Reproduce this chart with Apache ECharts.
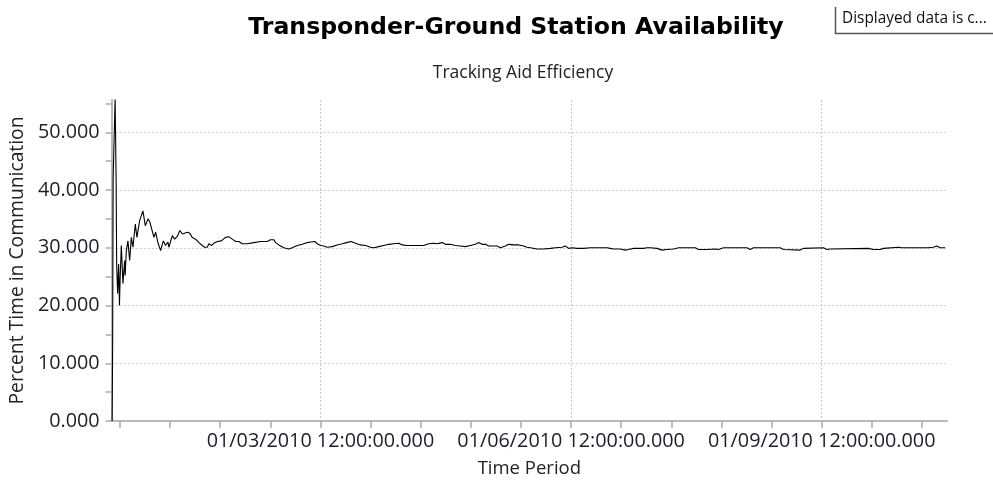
<!DOCTYPE html>
<html>
<head>
<meta charset="utf-8">
<script src="https://cdn.jsdelivr.net/npm/echarts@6/dist/echarts.min.js"></script>
<style>
html,body{margin:0;padding:0;background:#fff;}
#chart{width:993px;height:483px;}
</style>
</head>
<body>
<div id="chart"></div>
<script>
// ---- Data (x = hours since 01/01/2010 00:00, y = percent) ----
const timeHours = [
  0.14, 0.29, 0.43, 0.72, 1.00, 1.29, 1.44, 1.72, 2.01, 2.24, 2.44, 2.78, 3.24, 3.73, 3.88,
  4.22, 4.68, 5.17, 5.66, 6.12, 6.80, 7.26, 8.04, 8.99, 9.68, 10.42, 10.91, 11.20, 12.14, 12.63,
  13.29, 14.07, 14.84, 15.50, 16.16, 16.45, 17.43, 18.09, 18.86, 19.61, 20.30, 20.76, 21.73, 22.48, 23.17,
  24.12, 25.06, 26.04, 26.70, 27.48, 27.94, 28.71, 29.37, 30.35, 31.50, 32.73, 33.68, 34.65, 35.60, 36.55,
  37.53, 38.96, 40.86, 42.78, 44.70, 45.65, 46.60, 47.09, 48.03, 49.47, 50.90, 51.88, 53.32, 54.75, 56.19,
  57.14, 58.37, 59.06, 60.01, 60.95, 61.93, 63.37, 64.80, 66.24, 67.47, 68.82, 70.05, 71.49, 72.93, 74.36,
  75.31, 76.75, 78.18, 79.62, 81.05, 82.49, 83.46, 84.90, 89.66, 91.10, 92.53, 93.51, 94.95, 95.89, 97.33,
  98.76, 100.20, 100.69, 101.64, 103.07, 104.51, 105.45, 106.43, 107.38, 108.33, 110.74, 111.69, 113.12, 114.07, 115.50,
  116.94, 118.38, 119.35, 120.30, 122.22, 124.12, 126.04, 127.48, 129.40, 130.35, 131.30, 132.27, 133.71, 135.61, 137.53,
  142.32, 143.27, 144.22, 146.14, 147.57, 148.52, 149.96, 152.83, 153.80, 154.75, 156.67, 158.11, 159.54, 161.44, 162.88,
  167.67, 168.62, 171.03, 173.41, 174.36, 175.80, 182.51, 183.46, 184.41, 192.08, 193.02, 197.82, 198.76, 204.51, 205.48,
  206.43, 217.43, 218.86, 220.79, 221.74, 226.04, 226.53, 227.02, 234.65, 235.13, 236.08, 237.06, 238.01, 238.50, 239.45
];
const percentValues = [
  0.0, 13.8, 41.9, 42.2, 56.0, 41.3, 27.1, 22.1, 27.2, 20.0, 24.7, 30.4, 23.8, 27.8, 25.2,
  29.5, 31.2, 27.8, 31.8, 30.1, 34.1, 31.8, 34.7, 36.4, 33.8, 35.0, 34.6, 34.5, 31.8, 32.7,
  30.9, 29.5, 31.2, 30.4, 31.0, 30.1, 32.1, 31.5, 32.0, 33.0, 32.4, 32.7, 32.7, 32.5, 31.8,
  31.5, 30.9, 30.4, 30.1, 30.1, 30.7, 30.4, 30.8, 31.1, 31.2, 31.8, 31.9, 31.5, 31.1, 31.1,
  30.7, 30.7, 30.9, 31.1, 31.1, 31.4, 31.4, 30.9, 30.5, 30.0, 29.8, 30.0, 30.4, 30.6, 30.9,
  31.0, 31.1, 30.7, 30.4, 30.3, 30.1, 30.2, 30.5, 30.7, 30.9, 31.1, 30.8, 30.5, 30.4, 30.1,
  30.0, 30.2, 30.4, 30.6, 30.7, 30.8, 30.5, 30.4, 30.4, 30.7, 30.8, 30.7, 30.9, 30.6, 30.6,
  30.4, 30.3, 30.0, 30.2, 30.4, 30.6, 30.9, 30.6, 30.6, 30.3, 30.3, 30.0, 30.3, 30.6, 30.5,
  30.5, 30.3, 30.1, 30.0, 29.8, 29.8, 29.9, 30.0, 30.1, 30.3, 29.9, 30.0, 29.9, 29.9, 30.0,
  30.0, 29.9, 29.8, 29.8, 29.6, 29.7, 29.9, 29.9, 30.0, 30.0, 29.9, 29.6, 29.7, 29.8, 30.0,
  30.0, 29.7, 29.7, 29.8, 29.7, 30.0, 30.0, 29.7, 30.0, 30.0, 29.7, 29.6, 29.9, 30.0, 29.7,
  29.8, 29.9, 29.7, 29.7, 29.9, 30.1, 30.3, 30.0, 30.0, 30.3, 30.1, 30.3, 30.0, 30.3, 30.0
];
const xTickValues = [2.4, 16.8, 31.2, 45.6, 60, 74.4, 88.8, 103.2, 117.6, 132, 146.4, 160.8, 175.2, 189.6, 204, 218.4, 232.8];
const xLabelValues = [60, 132, 204];
const xLabelTexts = ['01/03/2010 12:00:00.000', '01/06/2010 12:00:00.000', '01/09/2010 12:00:00.000'];
const yTickValues = [0, 5, 10, 15, 20, 25, 30, 35, 40, 45, 50, 55];
const yLabelValues = [0, 10, 20, 30, 40, 50];
const yGridValues = [10, 20, 30, 40, 50];

const titleText = 'Transponder-Ground Station Availability';
const subtitleText = 'Tracking Aid Efficiency';
const xName = 'Time Period';
const yName = 'Percent Time in Communication';
const noteText = 'Displayed data is c...';

const X_MIN = 0, X_MAX = 240, Y_MIN = 0, Y_MAX = 55.6;

const chart = echarts.init(document.getElementById('chart'), null, {renderer: 'canvas'});
const labelFont = '"Open Sans", sans-serif';
const axisGray = '#b8b8b8';
const gridStyle = {color: '#c8c8c8', width: 1, type: [2, 2]};

chart.setOption({
  animation: false,
  backgroundColor: '#ffffff',
  grid: {left: 111, right: 46, top: 100, bottom: 60, containLabel: false},
  graphic: [
    {type: 'text', x: 516, y: 28, style: {text: titleText, font: 'bold 23.6px "DejaVu Sans"', fill: '#000', textAlign: 'center', textVerticalAlign: 'middle'}},
    {type: 'text', x: 523, y: 73, style: {text: subtitleText, font: '17.5px ' + labelFont, fill: '#222', textAlign: 'center', textVerticalAlign: 'middle'}},
    {type: 'polyline', shape: {points: [[835.5, 7], [835.5, 33.5], [993, 33.5]]}, style: {stroke: '#555', lineWidth: 1.5, fill: null}},
    {type: 'text', x: 842, y: 19, style: {text: noteText, font: '15.4px ' + labelFont, fill: '#111', textAlign: 'left', textVerticalAlign: 'middle'}}
  ],
  xAxis: [
    {
      type: 'value', min: X_MIN, max: X_MAX, position: 'bottom',
      name: xName, nameLocation: 'middle', nameGap: 38,
      nameTextStyle: {fontFamily: labelFont, fontSize: 18.5, color: '#222'},
      axisLine: {show: true, lineStyle: {color: axisGray, width: 2}},
      axisTick: {show: true, length: 7, customValues: xTickValues, lineStyle: {color: '#aaa', width: 1.5}},
      axisLabel: {
        show: true, customValues: xLabelValues, margin: 10,
        fontFamily: labelFont, fontSize: 19.8, color: '#1e1e2a',
        formatter: function (v) { const i = xLabelValues.indexOf(v); return i >= 0 ? xLabelTexts[i] : ''; }
      },
      splitLine: {show: false}
    },
    {
      type: 'value', min: X_MIN, max: X_MAX, position: 'bottom',
      axisLine: {show: false}, axisLabel: {show: false},
      axisTick: {show: false, customValues: xLabelValues},
      splitLine: {show: true, lineStyle: gridStyle}
    }
  ],
  yAxis: [
    {
      type: 'value', min: Y_MIN, max: Y_MAX, position: 'left',
      name: yName, nameLocation: 'middle', nameGap: 84,
      nameTextStyle: {fontFamily: labelFont, fontSize: 19.3, color: '#222'},
      axisLine: {show: true, lineStyle: {color: axisGray, width: 2}},
      axisTick: {show: true, length: 6, customValues: yTickValues, lineStyle: {color: '#aaa', width: 1.5}},
      axisLabel: {
        show: true, customValues: yLabelValues, margin: 12,
        fontFamily: labelFont, fontSize: 19.8, color: '#1e1e2a',
        formatter: function (v) { return v.toFixed(3); }
      },
      splitLine: {show: false}
    },
    {
      type: 'value', min: Y_MIN, max: Y_MAX, position: 'left',
      axisLine: {show: false}, axisLabel: {show: false},
      axisTick: {show: false, customValues: yGridValues},
      splitLine: {show: true, lineStyle: gridStyle}
    }
  ],
  series: [{
    type: 'line',
    xAxisIndex: 0, yAxisIndex: 0,
    data: timeHours.map(function (h, i) { return [h, percentValues[i]]; }),
    showSymbol: false,
    symbol: 'none',
    clip: true,
    lineStyle: {color: '#000', width: 1.1},
    z: 5
  }]
});
</script>
</body>
</html>
